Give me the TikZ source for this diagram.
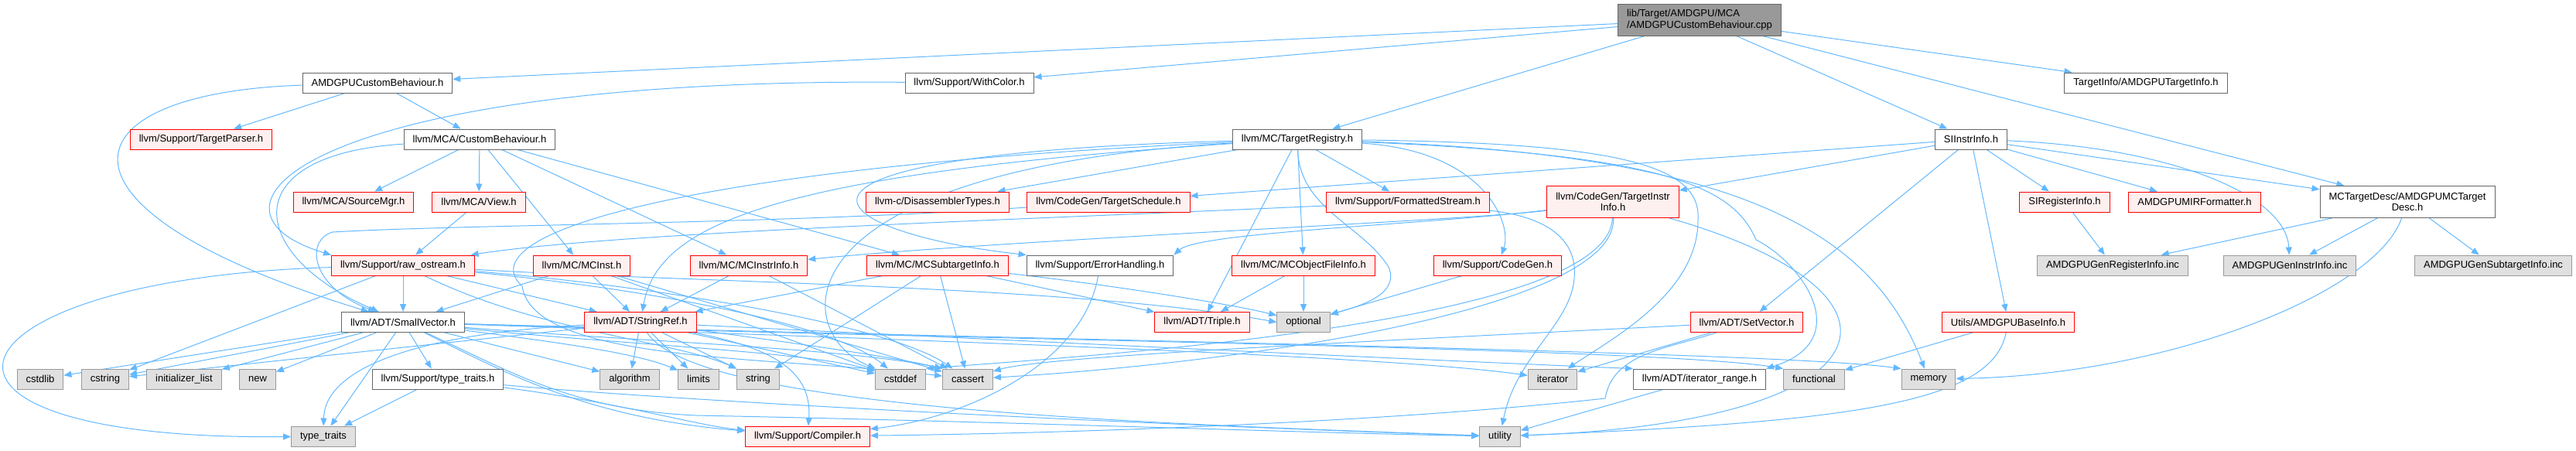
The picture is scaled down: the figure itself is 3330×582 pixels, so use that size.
\documentclass[tikz,border=0pt]{standalone}
\usepackage{fontspec}
\setmainfont{Liberation Sans}
\usepackage{xcolor}
\definecolor{dgedge}{RGB}{99,184,255}
\definecolor{dgframe}{RGB}{102,102,102}
\definecolor{dgred}{RGB}{255,0,0}
\definecolor{dgredfill}{RGB}{255,240,240}
\definecolor{dgsys}{RGB}{224,224,224}
\definecolor{dgsysframe}{RGB}{153,153,153}
\definecolor{dgroot}{RGB}{153,153,153}
\usetikzlibrary{arrows.meta}
\pgfdeclarelayer{bg}
\pgfsetlayers{bg,main}

\begin{document}
\begin{tikzpicture}[x=0.75pt,y=-0.75pt,
  hdr/.style={draw=dgframe,fill=white,line width=0.75pt,minimum height=19.5pt,inner xsep=8.6pt,inner ysep=2pt,font=\fontsize{9.75}{10.9}\selectfont,align=center},
  redhdr/.style={hdr,draw=dgred,fill=dgredfill},
  syshdr/.style={hdr,draw=dgsysframe,fill=dgsys},
  rootfile/.style={hdr,fill=dgroot,minimum height=30.75pt,align=left},
  inc/.style={-{Triangle[length=7.5pt,width=6pt]},dgedge,line width=0.75pt}]
  \useasboundingbox (0,0) rectangle (3330,582);
  % Source file
  \node[rootfile] (root) at (2197,25.5) {lib/Target/AMDGPU/MCA\\/AMDGPUCustomBehaviour.cpp};
  % Direct includes
  \node[hdr] (acbh) at (488,107) {AMDGPUCustomBehaviour.h};
  \node[hdr] (withcolor) at (1253,107) {llvm/Support/WithColor.h};
  \node[hdr] (tinfo) at (2774,107) {TargetInfo/AMDGPUTargetInfo.h};
  \node[redhdr] (tparser) at (260,180) {llvm/Support/TargetParser.h};
  \node[hdr] (custb) at (620,180) {llvm/MCA/CustomBehaviour.h};
  \node[hdr] (treg) at (1677,180) {llvm/MC/TargetRegistry.h};
  \node[hdr] (siinstr) at (2548,180) {SIInstrInfo.h};
  % Third row
  \node[redhdr] (smgr) at (457,261) {llvm/MCA/SourceMgr.h};
  \node[redhdr] (view) at (619,261) {llvm/MCA/View.h};
  \node[redhdr] (disasm) at (1212,261) {llvm-c/DisassemblerTypes.h};
  \node[redhdr] (tsched) at (1433,261) {llvm/CodeGen/TargetSchedule.h};
  \node[redhdr] (fstream) at (1820,261) {llvm/Support/FormattedStream.h};
  \node[redhdr,minimum height=30.75pt] (tii) at (2085,261) {llvm/CodeGen/TargetInstr\\Info.h};
  \node[redhdr] (sireg) at (2669,261) {SIRegisterInfo.h};
  \node[redhdr] (mirfmt) at (2837,261) {AMDGPUMIRFormatter.h};
  \node[hdr,minimum height=30.75pt] (mctd) at (3112,261) {MCTargetDesc/AMDGPUMCTarget\\Desc.h};
  % Fourth row
  \node[redhdr] (rawos) at (521,343) {llvm/Support/raw\_ostream.h};
  \node[redhdr] (mcinst) at (752,343) {llvm/MC/MCInst.h};
  \node[redhdr] (mcinstrinfo) at (968,343) {llvm/MC/MCInstrInfo.h};
  \node[redhdr] (mcsti) at (1212,343) {llvm/MC/MCSubtargetInfo.h};
  \node[hdr] (errh) at (1422,343) {llvm/Support/ErrorHandling.h};
  \node[redhdr] (mcofi) at (1685,343) {llvm/MC/MCObjectFileInfo.h};
  \node[redhdr] (codegen) at (1936,343) {llvm/Support/CodeGen.h};
  \node[syshdr] (genreg) at (2731,343) {AMDGPUGenRegisterInfo.inc};
  \node[syshdr] (geninstr) at (2960,343) {AMDGPUGenInstrInfo.inc};
  \node[syshdr] (gensub) at (3223,343) {AMDGPUGenSubtargetInfo.inc};
  % Fifth row
  \node[hdr] (smallvec) at (521,416.5) {llvm/ADT/SmallVector.h};
  \node[redhdr] (stringref) at (828,416.5) {llvm/ADT/StringRef.h};
  \node[redhdr] (triple) at (1554,416.5) {llvm/ADT/Triple.h};
  \node[syshdr] (optional) at (1685,416.5) {optional};
  \node[redhdr] (setvec) at (2258,416.5) {llvm/ADT/SetVector.h};
  \node[redhdr] (baseinfo) at (2596,416.5) {Utils/AMDGPUBaseInfo.h};
  % Sixth row
  \node[syshdr] (cstdlib) at (52,490) {cstdlib};
  \node[syshdr] (cstring) at (136,490) {cstring};
  \node[syshdr] (initlist) at (238,490) {initializer\_list};
  \node[syshdr] (new) at (333,490) {new};
  \node[hdr] (sttraits) at (566,490) {llvm/Support/type\_traits.h};
  \node[syshdr] (algorithm) at (814,490) {algorithm};
  \node[syshdr] (limits) at (903,490) {limits};
  \node[syshdr] (string) at (980,490) {string};
  \node[syshdr] (cstddef) at (1164,490) {cstddef};
  \node[syshdr] (cassert) at (1251,490) {cassert};
  \node[syshdr] (iterator) at (2007,490) {iterator};
  \node[hdr] (iterrange) at (2197,490) {llvm/ADT/iterator\_range.h};
  \node[syshdr] (functional) at (2345,490) {functional};
  \node[syshdr] (memory) at (2493,490) {memory};
  % Bottom row
  \node[syshdr] (typetraits) at (418,564) {type\_traits};
  \node[redhdr] (compiler) at (1044,564) {llvm/Support/Compiler.h};
  \node[syshdr] (utility) at (1939,564) {utility};

  \begin{pgfonlayer}{bg}
  % Source file
  \draw[inc] (root) -- (acbh);
  \draw[inc] (root) -- (withcolor);
  \draw[inc] (root) -- (treg);
  \draw[inc] (root) -- (siinstr);
  \draw[inc] (root) -- (tinfo);
  \draw[inc] (root) -- (mctd);
  % AMDGPUCustomBehaviour.h
  \draw[inc] (acbh) -- (tparser);
  \draw[inc] (acbh) -- (custb);
  \draw[inc] (acbh) .. controls (80,120) and (40,270) .. (smallvec);
  \draw[inc] (withcolor) .. controls (400,100) and (230,270) .. (rawos.north west);
  % CustomBehaviour.h
  \draw[inc] (custb) -- (smgr);
  \draw[inc] (custb) -- (view);
  \draw[inc] (custb) .. controls (300,200) and (320,330) .. (smallvec);
  \draw[inc] (custb) -- (mcinst);
  \draw[inc] (custb) -- (mcinstrinfo);
  \draw[inc] (custb) -- (mcsti);
  \draw[inc] (view) -- (rawos);
  % TargetRegistry.h
  \draw[inc] (treg) -- (disasm);
  \draw[inc] (treg) -- (fstream);
  \draw[inc] (treg) -- (mcofi);
  \draw[inc] (treg) .. controls (1920,195) and (1955,290) .. (codegen);
  \draw[inc] (treg) .. controls (930,200) and (1060,300) .. (errh.north west);
  \draw[inc] (treg) .. controls (1000,225) and (850,290) .. (stringref);
  \draw[inc] (treg) .. controls (1000,220) and (1020,430) .. (cstddef);
  \draw[inc] (treg) .. controls (900,215) and (600,300) .. (675,370) .. controls (690,470) and (1000,460) .. (cassert);
  \draw[inc] (treg) -- (triple);
  \draw[inc] (treg) .. controls (1680,270) and (1760,290) .. (1795,345) .. controls (1810,380) and (1760,395) .. (optional);
  \draw[inc] (treg) .. controls (2100,185) and (2200,215) .. (2195,285) .. controls (2195,380) and (2080,440) .. (iterator);
  \draw[inc] (treg) .. controls (2150,200) and (2240,240) .. (2270,310) .. controls (2330,340) and (2400,440) .. (iterrange.north east);
  \draw[inc] (treg) .. controls (2250,200) and (2420,300) .. (memory);
  % SIInstrInfo.h
  \draw[inc] (siinstr) -- (tsched);
  \draw[inc] (siinstr) -- (tii);
  \draw[inc] (siinstr) -- (setvec);
  \draw[inc] (siinstr) -- (baseinfo);
  \draw[inc] (siinstr) -- (sireg);
  \draw[inc] (siinstr) -- (mirfmt);
  \draw[inc] (siinstr) -- (mctd);
  \draw[inc] (siinstr) .. controls (2800,190) and (2955,250) .. (geninstr);
  \draw[inc] (sireg) -- (genreg);
  % AMDGPUMCTargetDesc.h
  \draw[inc] (mctd) -- (genreg);
  \draw[inc] (mctd) -- (geninstr);
  \draw[inc] (mctd) -- (gensub);
  \draw[inc] (mctd) .. controls (3070,380) and (2800,485) .. (memory);
  % TargetSchedule.h, TargetInstrInfo.h, FormattedStream.h
  \draw[inc] (tsched) .. controls (1000,290) and (600,290) .. (430,300) .. controls (395,310) and (400,370) .. (smallvec);
  \draw[inc] (tii) .. controls (1900,285) and (1300,310) .. (mcinstrinfo);
  \draw[inc] (tii) .. controls (1850,290) and (1550,300) .. (errh.north east);
  \draw[inc] (tii) .. controls (2090,400) and (1600,470) .. (cassert);
  \draw[inc] (tii) .. controls (2080,420) and (1400,460) .. (cstddef.north east);
  \draw[inc] (tii) .. controls (2500,380) and (2450,545) .. (utility);
  \draw[inc] (fstream) .. controls (1300,285) and (800,300) .. (rawos);
  \draw[inc] (fstream) .. controls (2000,280) and (2040,310) .. (2035,360) .. controls (2030,420) and (1960,460) .. (utility);
  \draw[inc] (mcofi) -- (triple);
  \draw[inc] (mcofi) -- (optional);
  \draw[inc] (codegen) -- (optional);
  % raw_ostream.h
  \draw[inc] (rawos) -- (smallvec);
  \draw[inc] (rawos) -- (stringref);
  \draw[inc] (rawos) -- (cstring);
  \draw[inc] (rawos) .. controls (-80,360) and (-170,570) .. (typetraits);
  \draw[inc] (rawos) .. controls (700,430) and (870,440) .. (string.north west);
  \draw[inc] (rawos) .. controls (850,370) and (1150,420) .. (cassert);
  \draw[inc] (rawos) .. controls (850,375) and (1080,420) .. (cstddef);
  \draw[inc] (rawos) .. controls (900,365) and (1400,370) .. (optional.west);
  % MC headers
  \draw[inc] (mcinst) -- (smallvec);
  \draw[inc] (mcinst) -- (stringref);
  \draw[inc] (mcinst) -- (cassert);
  \draw[inc] (mcinst) -- (cstddef);
  \draw[inc] (mcinstrinfo) -- (stringref);
  \draw[inc] (mcinstrinfo) -- (cassert);
  \draw[inc] (mcsti) -- (stringref);
  \draw[inc] (mcsti) -- (string);
  \draw[inc] (mcsti) -- (cassert);
  \draw[inc] (mcsti) -- (triple);
  \draw[inc] (mcsti) .. controls (1450,370) and (1600,395) .. (optional);
  % SmallVector.h
  \draw[inc] (smallvec) -- (cstdlib);
  \draw[inc] (smallvec) -- (cstring);
  \draw[inc] (smallvec) -- (initlist);
  \draw[inc] (smallvec) -- (new);
  \draw[inc] (smallvec) -- (typetraits);
  \draw[inc] (smallvec) -- (sttraits);
  \draw[inc] (smallvec) -- (algorithm);
  \draw[inc] (smallvec) .. controls (700,440) and (820,455) .. (limits);
  \draw[inc] (smallvec) .. controls (800,445) and (1050,455) .. (cstddef);
  \draw[inc] (smallvec) .. controls (800,440) and (1100,450) .. (cassert.north west);
  \draw[inc] (smallvec) .. controls (1200,440) and (1800,460) .. (iterator);
  \draw[inc] (smallvec) .. controls (1300,440) and (2150,450) .. (functional.north west);
  \draw[inc] (smallvec) .. controls (1400,440) and (2300,455) .. (memory.north west);
  \draw[inc] (smallvec) .. controls (660,480) and (740,530) .. (900,537) .. controls (1300,545) and (1700,560) .. (utility);
  \draw[inc] (smallvec) .. controls (660,485) and (760,540) .. (compiler);
  % StringRef.h
  \draw[inc] (stringref) .. controls (560,430) and (420,470) .. (typetraits);
  \draw[inc] (stringref) -- (cstring);
  \draw[inc] (stringref) -- (algorithm);
  \draw[inc] (stringref) -- (limits);
  \draw[inc] (stringref) -- (string);
  \draw[inc] (stringref) -- (cstddef);
  \draw[inc] (stringref) .. controls (1000,440) and (1150,460) .. (cassert.north west);
  \draw[inc] (stringref) .. controls (1000,450) and (1050,480) .. (compiler);
  \draw[inc] (stringref) .. controls (1300,440) and (1900,468) .. (iterrange.north west);
  \draw[inc] (stringref) .. controls (900,530) and (1500,548) .. (utility);
  % Remaining headers
  \draw[inc] (sttraits) -- (typetraits);
  \draw[inc] (sttraits) .. controls (800,520) and (900,550) .. (compiler);
  \draw[inc] (sttraits) .. controls (900,520) and (1500,550) .. (utility);
  \draw[inc] (iterrange) -- (utility);
  \draw[inc] (setvec) .. controls (1800,440) and (1350,460) .. (cassert);
  \draw[inc] (setvec) -- (iterator);
  \draw[inc] (setvec) .. controls (2160,450) and (2085,455) .. (2075,515) .. controls (1800,545) and (1400,560) .. (compiler);
  \draw[inc] (errh) .. controls (1400,470) and (1250,540) .. (compiler);
  \draw[inc] (baseinfo) -- (functional);
  \draw[inc] (baseinfo) .. controls (2575,520) and (2400,545) .. (utility);
  \end{pgfonlayer}
\end{tikzpicture}
\end{document}
